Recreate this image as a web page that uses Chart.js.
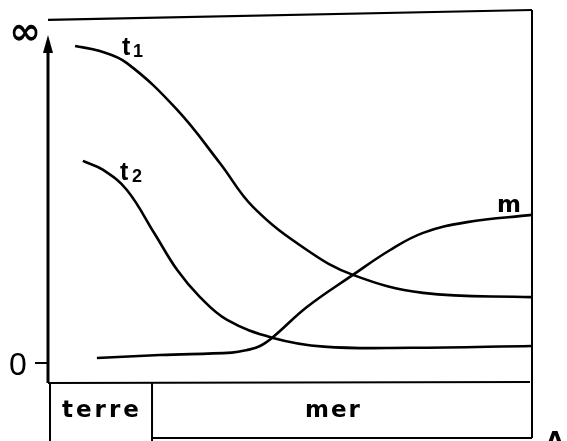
<!DOCTYPE html>
<html>
<head>
<meta charset="utf-8">
<script src="https://cdn.jsdelivr.net/npm/chart.js@4/dist/chart.umd.min.js"></script>
<style>
  html, body { margin: 0; padding: 0; background: #fff; }
  #wrap { width: 567px; height: 441px; }
</style>
</head>
<body>
<div id="wrap"><canvas id="myChart" width="567" height="441"></canvas></div>
<script>
// distance along the profile (0 = left axis, 100 = point A)
const t1X = [5.6, 10.7, 16.3, 26.7, 35.5, 42.4, 53.5, 63.0, 77.5, 100];
const t1Y = [104, 102.3, 98.3, 82.7, 65, 50.3, 36, 27.7, 21.7, 20.3];

const t2X = [7.2, 11.4, 16.3, 22.0, 26.7, 31.4, 37.0, 46.5, 57.0, 75.0, 100];
const t2Y = [65.7, 62.7, 56, 41.5, 29.3, 20.3, 12.7, 6.7, 3.8, 3.4, 4];

const mX = [10.1, 23.1, 38.0, 41.0, 43.8, 46.5, 53.5, 63.0, 70.7, 77.5, 86.6, 100];
const mY = [0, 1, 1.8, 2.6, 4, 7, 17, 27.7, 36, 41.7, 45.3, 47.7];

// the "infinity" level drawn along the top
const infX = [0, 100];
const infY = [112.7, 116];

const landEnd = 21.7; // terre / mer boundary

function pts(xs, ys) {
  return xs.map((x, i) => ({ x: x, y: ys[i] }));
}

function curve(xs, ys, w, t) {
  return {
    data: pts(xs, ys),
    borderColor: '#000',
    borderWidth: w,
    pointRadius: 0,
    tension: t,
    fill: false,
    clip: false
  };
}

const FONT = '"Liberation Sans", Arial, sans-serif';
const WIDE = '"DejaVu Sans", sans-serif';

const decor = {
  id: 'decor',
  afterDatasetsDraw(chart) {
    const ctx = chart.ctx;
    const xs = chart.scales.x;
    const ys = chart.scales.y;
    const left = xs.getPixelForValue(0);
    const right = xs.getPixelForValue(100);
    const bottom = ys.getPixelForValue(-8) + 1;
    const zero = ys.getPixelForValue(0);
    const sep = xs.getPixelForValue(landEnd) - 1;
    const boxBottom = 438;

    ctx.save();
    ctx.strokeStyle = '#000';
    ctx.fillStyle = '#000';
    ctx.lineCap = 'butt';

    // left axis with arrow
    ctx.lineWidth = 3;
    ctx.beginPath();
    ctx.moveTo(left, bottom);
    ctx.lineTo(left, 48);
    ctx.stroke();
    ctx.beginPath();
    ctx.moveTo(left, 35);
    ctx.lineTo(left - 5, 53);
    ctx.lineTo(left + 5, 53);
    ctx.closePath();
    ctx.fill();

    // frame
    ctx.lineWidth = 2;
    ctx.beginPath();
    ctx.moveTo(right, ys.getPixelForValue(infY[1]));
    ctx.lineTo(right, boxBottom);
    ctx.stroke();

    ctx.beginPath();
    ctx.moveTo(left, bottom);
    ctx.lineTo(right - 2, bottom - 1);
    ctx.stroke();

    // terre / mer box
    ctx.beginPath();
    ctx.moveTo(left + 2, bottom);
    ctx.lineTo(left + 2, 441);
    ctx.moveTo(sep, bottom);
    ctx.lineTo(sep, 441);
    ctx.moveTo(sep, boxBottom);
    ctx.lineTo(right, boxBottom);
    ctx.stroke();

    // zero tick
    ctx.beginPath();
    ctx.moveTo(35, zero + 5);
    ctx.lineTo(left, zero + 5);
    ctx.stroke();

    ctx.textBaseline = 'alphabetic';
    ctx.textAlign = 'center';
    ctx.font = '32px ' + FONT;
    ctx.fillText('0', 18, 375);
    ctx.font = 'bold 38px ' + WIDE;
    ctx.fillText('\u221E', 25, 44);

    ctx.font = 'bold 23px ' + WIDE;
    ctx.textAlign = 'left';
    if ('letterSpacing' in ctx) ctx.letterSpacing = '3px';
    ctx.fillText('terre', 62, 417);
    if ('letterSpacing' in ctx) ctx.letterSpacing = '2px';
    ctx.fillText('mer', 305, 417);
    if ('letterSpacing' in ctx) ctx.letterSpacing = '0px';
    ctx.fillText('A', 546, 448);

    // curve labels
    ctx.font = 'bold 25px ' + FONT;
    ctx.fillText('t', 122, 55);
    ctx.fillText('t', 120, 180);
    ctx.font = 'bold 23px ' + WIDE;
    ctx.fillText('m', 497, 212);
    ctx.font = 'bold 18px ' + FONT;
    ctx.fillText('1', 133, 57);
    ctx.fillText('2', 132, 182);
    ctx.restore();
  }
};

new Chart(document.getElementById('myChart'), {
  type: 'line',
  data: {
    datasets: [
      curve(t1X, t1Y, 2.6, 0.4),
      curve(t2X, t2Y, 2.6, 0.4),
      curve(mX, mY, 2.6, 0.4),
      curve(infX, infY, 2.2, 0)
    ]
  },
  options: {
    responsive: false,
    animation: false,
    layout: { padding: { left: 48, right: 35, top: 7, bottom: 59 } },
    plugins: { legend: { display: false }, tooltip: { enabled: false } },
    scales: {
      x: { type: 'linear', min: 0, max: 100, display: false },
      y: { type: 'linear', min: -8, max: 117, display: false }
    }
  },
  plugins: [decor]
});
</script>
</body>
</html>
